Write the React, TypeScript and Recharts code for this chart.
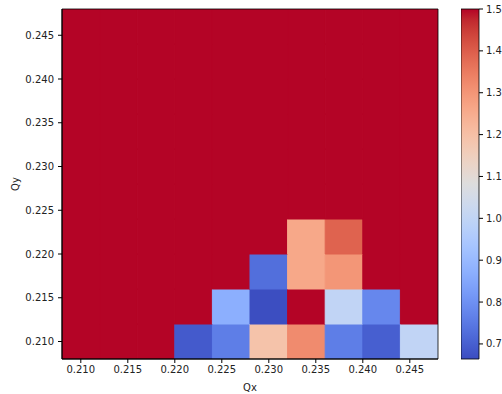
import { ScatterChart, XAxis, YAxis, ReferenceArea } from 'recharts';

// cell centres (Qx, Qy); cells are 0.004 wide
const qxCenters = [0.21, 0.214, 0.218, 0.222, 0.226, 0.23, 0.234, 0.238, 0.242, 0.246];
const qyCenters = [0.21, 0.214, 0.218, 0.222, 0.226, 0.23, 0.234, 0.238, 0.242, 0.246];
const cellSize = 0.004;

// values per row, bottom (Qy=0.210) to top; 1.5 = saturated
const row210 = [1.5, 1.5, 1.5, 0.69, 0.76, 1.19, 1.32, 0.76, 0.7, 1.0];
const row214 = [1.5, 1.5, 1.5, 1.5, 0.87, 0.667, 1.5, 1.0, 0.78, 1.5];
const row218 = [1.5, 1.5, 1.5, 1.5, 1.5, 0.73, 1.26, 1.3, 1.5, 1.5];
const row222 = [1.5, 1.5, 1.5, 1.5, 1.5, 1.5, 1.26, 1.39, 1.5, 1.5];
const row226 = [1.5, 1.5, 1.5, 1.5, 1.5, 1.5, 1.5, 1.5, 1.5, 1.5];
const row230 = [1.5, 1.5, 1.5, 1.5, 1.5, 1.5, 1.5, 1.5, 1.5, 1.5];
const row234 = [1.5, 1.5, 1.5, 1.5, 1.5, 1.5, 1.5, 1.5, 1.5, 1.5];
const row238 = [1.5, 1.5, 1.5, 1.5, 1.5, 1.5, 1.5, 1.5, 1.5, 1.5];
const row242 = [1.5, 1.5, 1.5, 1.5, 1.5, 1.5, 1.5, 1.5, 1.5, 1.5];
const row246 = [1.5, 1.5, 1.5, 1.5, 1.5, 1.5, 1.5, 1.5, 1.5, 1.5];
const rows = [row210, row214, row218, row222, row226, row230, row234, row238, row242, row246];

const qTicks = [0.21, 0.215, 0.22, 0.225, 0.23, 0.235, 0.24, 0.245];
const cbarTicks = [0.7, 0.8, 0.9, 1.0, 1.1, 1.2, 1.3, 1.4, 1.5];
const vmin = 0.664;
const vmax = 1.5;

// matplotlib coolwarm, 33 samples
const coolwarm = [
  [59, 76, 192], [68, 90, 204], [77, 104, 215], [87, 117, 225], [98, 130, 234],
  [108, 142, 241], [119, 154, 247], [130, 165, 251], [141, 176, 254], [152, 185, 255],
  [163, 194, 255], [174, 201, 253], [184, 208, 249], [194, 213, 244], [204, 217, 238],
  [213, 219, 230], [221, 221, 221], [229, 216, 209], [236, 211, 197], [241, 204, 184],
  [245, 196, 172], [247, 187, 160], [247, 177, 148], [247, 166, 135], [244, 154, 123],
  [241, 141, 111], [236, 127, 99], [229, 112, 88], [222, 96, 77], [213, 80, 66],
  [203, 62, 56], [192, 40, 47], [180, 4, 38],
];

function cmap(f: number) {
  const t = Math.min(1, Math.max(0, f)) * (coolwarm.length - 1);
  const i = Math.min(coolwarm.length - 2, Math.floor(t));
  const k = t - i;
  const c = coolwarm[i].map((a, j) => Math.round(a + (coolwarm[i + 1][j] - a) * k));
  return `rgb(${c[0]},${c[1]},${c[2]})`;
}

const colorOf = (v: number) => cmap((v - vmin) / (vmax - vmin));

const font = { fontFamily: 'DejaVu Sans', fontSize: 10, fill: '#222' };
const fmt = (v: number) => v.toFixed(3);

export default function App() {
  const cells = [];
  rows.forEach((row, r) =>
    row.forEach((v, c) => {
      const col = colorOf(v);
      cells.push(
        <ReferenceArea
          key={`${r}-${c}`}
          x1={qxCenters[c] - cellSize / 2}
          x2={qxCenters[c] + cellSize / 2}
          y1={qyCenters[r] - cellSize / 2}
          y2={qyCenters[r] + cellSize / 2}
          fill={col}
          fillOpacity={1}
          stroke={col}
          strokeWidth={1}
          ifOverflow="hidden"
        />
      );
    })
  );

  return (
    <div style={{ position: 'absolute', left: 0, top: 0, width: 502, height: 394, background: '#fff' }}>
      <svg width={0} height={0} style={{ position: 'absolute' }}>
        <defs>
          <linearGradient id="cbGrad" x1="0" y1="1" x2="0" y2="0">
            {coolwarm.map((c, i) => (
              <stop key={i} offset={i / (coolwarm.length - 1)} stopColor={`rgb(${c[0]},${c[1]},${c[2]})`} />
            ))}
          </linearGradient>
        </defs>
      </svg>
      <div style={{ position: 'absolute', left: 0, top: 0 }}>
        <ScatterChart width={450} height={394} margin={{ top: 9, right: 12, bottom: 0, left: 0 }}>
          <XAxis
            type="number"
            dataKey="qx"
            domain={[0.208, 0.248]}
            ticks={qTicks}
            tickFormatter={fmt}
            allowDataOverflow
            height={35}
            tickSize={4}
            tickMargin={3}
            tick={font}
            stroke="#000"
            label={{ value: 'Qx', position: 'insideBottom', offset: 3, style: font }}
          />
          <YAxis
            type="number"
            dataKey="qy"
            domain={[0.208, 0.248]}
            ticks={qTicks}
            tickFormatter={fmt}
            allowDataOverflow
            width={62}
            tickSize={4}
            tickMargin={4}
            tick={font}
            stroke="#000"
            label={{ value: 'Qy', angle: -90, position: 'insideLeft', offset: 15, style: { ...font, textAnchor: 'middle' } }}
          />
          {cells}
          <ReferenceArea x1={0.208} x2={0.248} y1={0.208} y2={0.248} fill="none" stroke="#000" strokeWidth={0.8} ifOverflow="visible" />
        </ScatterChart>
      </div>
      <div style={{ position: 'absolute', left: 461, top: 0 }}>
        <ScatterChart width={41} height={394} margin={{ top: 9, right: 0, bottom: 35, left: 0 }}>
          <XAxis
            type="number"
            dataKey="x"
            domain={[0, 1]}
            allowDataOverflow
            height={0}
            tick={false}
            tickLine={false}
            axisLine={false}
          />
          <YAxis
            type="number"
            dataKey="v"
            orientation="right"
            domain={[vmin, vmax]}
            ticks={cbarTicks}
            tickFormatter={(v: number) => v.toFixed(1)}
            allowDataOverflow
            width={23}
            tickSize={4}
            tickMargin={3}
            tick={font}
            stroke="#000"
            axisLine={false}
          />
          <ReferenceArea x1={0} x2={1} y1={vmin} y2={vmax} fill="url(#cbGrad)" fillOpacity={1} stroke="#000" strokeWidth={0.8} ifOverflow="visible" />
        </ScatterChart>
      </div>
    </div>
  );
}
